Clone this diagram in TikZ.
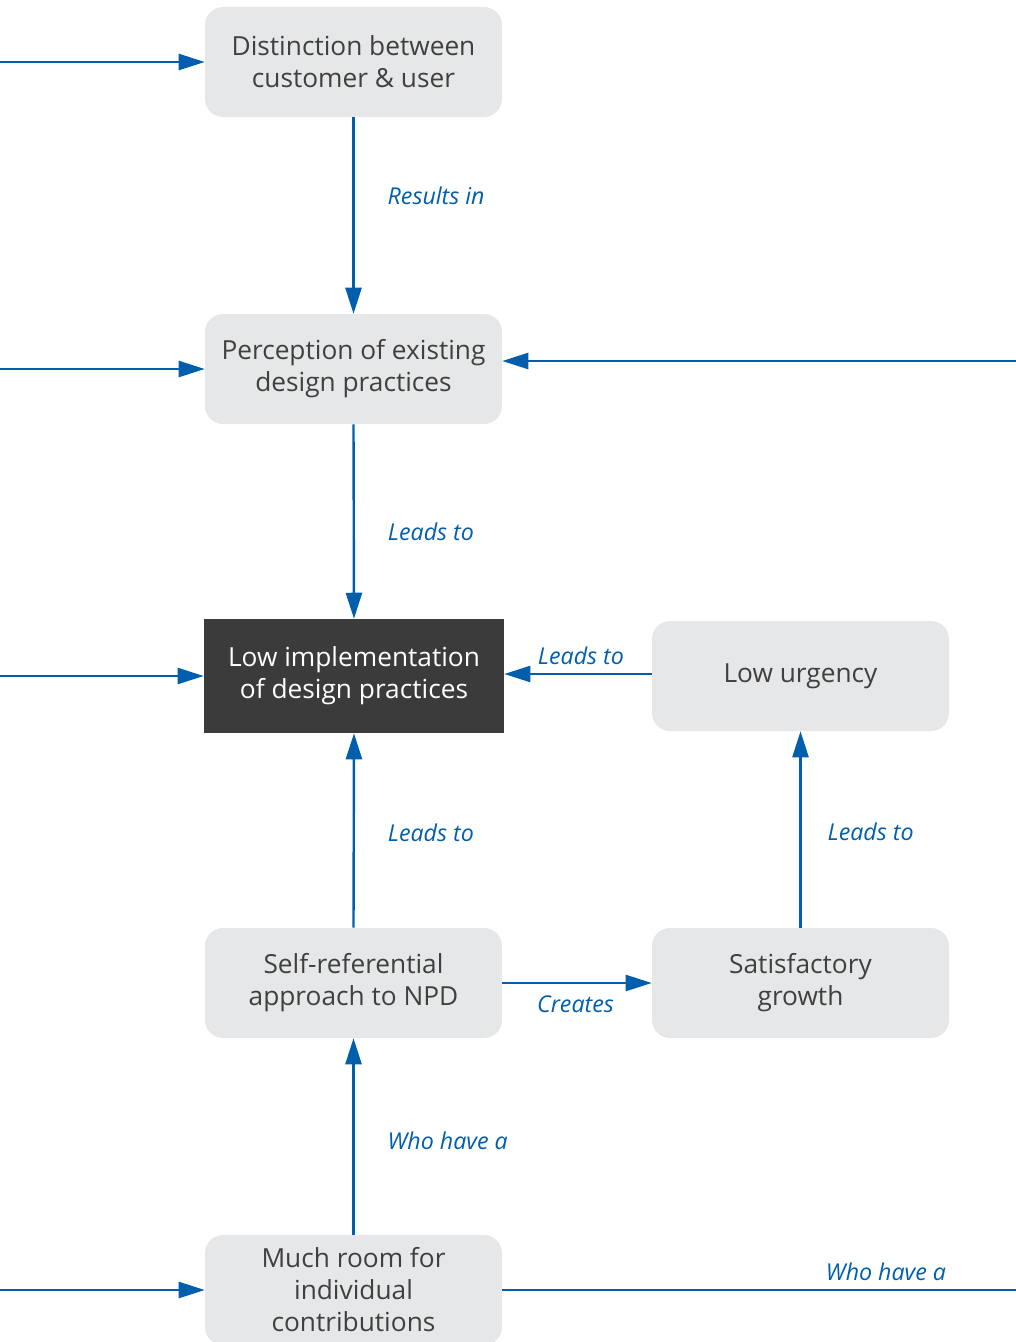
\documentclass[tikz,border=0pt]{standalone}
\usepackage{fontspec}
\setmainfont{Open Sans}
\usetikzlibrary{arrows.meta}
\definecolor{flowblue}{HTML}{005EAC}
\definecolor{boxgray}{HTML}{E6E7E8}
\definecolor{boxdark}{HTML}{3B3B3B}
\definecolor{textgray}{HTML}{404040}
\begin{document}
\begin{tikzpicture}[x=0.75pt,y=-0.75pt,
  box/.style={draw=none,fill=boxgray,rounded corners=13.5pt,minimum width=222.75pt,
    minimum height=82.5pt,align=center,text=textgray,
    font=\fontsize{19.7}{24}\selectfont,inner sep=0pt},
  darkbox/.style={draw=none,fill=boxdark,minimum width=225pt,minimum height=85.5pt,
    align=center,text=white,font=\fontsize{19.7}{24}\selectfont,inner sep=0pt},
  arr/.style={draw=flowblue,line width=1.8pt,-{Triangle[length=19.5pt,width=12pt]}},
  line/.style={draw=flowblue,line width=1.8pt},
  lbl/.style={text=flowblue,font=\fontsize{17.4}{20}\selectfont\itshape,inner sep=0pt}]
\useasboundingbox (0,0) rectangle (1016,1342);

% boxes
\node[box] (b1) at (353.5,62) {Distinction between\\customer \& user};
\node[box] (b2) at (353.5,369) {Perception of existing\\design practices};
\node[darkbox] (b3) at (354,676) {Low implementation\\of design practices};
\node[box] (b4) at (800.5,676) {Low urgency};
\node[box] (b5) at (353.5,983) {Self-referential\\approach to NPD};
\node[box] (b6) at (800.5,983) {Satisfactory\\growth};
\node[box] (b7) at (353.5,1290) {Much room for\\individual\\contributions};

% free ends of incoming / outgoing lines
\coordinate (l1) at (0,62);
\coordinate (l2) at (0,369);
\coordinate (l3) at (0,676);
\coordinate (l7) at (0,1290);
\coordinate (r2) at (1016,361);
\coordinate (r7) at (1016,1290);

\draw[arr] (l1) -- (b1.west);
\draw[arr] (l2) -- (b2.west);
\draw[arr] (l3) -- (b3.west);
\draw[arr] (l7) -- (b7.west);
\draw[arr] (r2) -- (r2 -| b2.east);

% vertical connectors
\draw[arr] (b1.south) -- node[lbl,pos=0.40,anchor=west,xshift=24.75pt] {Results in} (b2.north);
\draw[arr] (b2.south) -- node[lbl,pos=0.554,anchor=west,xshift=24.75pt] {Leads to} (b3.north);
\draw[arr] (b5.north) -- node[lbl,pos=0.49,anchor=west,xshift=24.75pt] {Leads to} (b3.south);
\draw[arr] (b6.north) -- node[lbl,pos=0.49,anchor=west,xshift=19.5pt] {Leads to} (b4.south);
\draw[arr] (b7.north) -- node[lbl,pos=0.477,anchor=west,xshift=24.75pt] {Who have a} (b5.south);

% horizontal connectors
\draw[arr] ([yshift=1.5pt]b4.west) -- node[lbl,pos=0.48,anchor=base,yshift=7.5pt] {Leads to} ([yshift=1.5pt]b4.west -| b3.east);
\draw[arr] (b5.east) -- node[lbl,pos=0.49,anchor=base,yshift=-21.75pt] {Creates} (b6.west);
\draw[line] (b7.east) -- node[lbl,pos=0.747,anchor=base,yshift=7pt] {Who have a} (r7);
\end{tikzpicture}
\end{document}
